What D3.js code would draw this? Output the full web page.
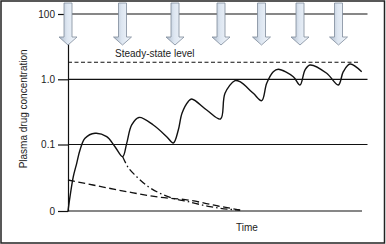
<!DOCTYPE html>
<html>
<head>
<meta charset="utf-8">
<script src="https://cdn.jsdelivr.net/npm/d3@7"></script>
<style>
  html, body { margin: 0; padding: 0; background: #fff; }
  svg { display: block; font-family: "Liberation Sans", Arial, sans-serif; }
</style>
</head>
<body>
<div id="chart"></div>
<script>
// doses (time units) and the level grid (0, 0.1, 1.0, 100 drawn evenly spaced)
const doseTimes = [0, 54.5, 107, 153, 193.5, 232, 270.5];
const levelTicks = [0, 1, 2, 3];
const levelLabels = ["0", "0.1", "1.0", "100"];
const steadyState = 2.26;

// plasma concentration after repeated doses
const concTime  = [0, 2, 5.3, 8.7, 12, 17, 27, 38.7, 47, 54.7, 58.7, 63.7, 71, 85.3, 98.7, 105.3,
                   110.3, 114, 120.3, 123.7, 138.7, 152.5, 157, 167, 172, 185.3, 193.7, 198.7, 205.3,
                   210.3, 225.3, 232, 237, 242, 258.7, 270.3, 275.3, 282, 293.7];
const concLevel = [0, 0.215, 0.516, 0.717, 0.917, 1.095, 1.172, 1.12, 0.967, 0.817, 1.018, 1.3, 1.415, 1.299, 1.12, 1.023,
                   1.222, 1.48, 1.66, 1.698, 1.529, 1.391, 1.785, 1.979, 1.963, 1.785, 1.672, 1.938, 2.116,
                   2.153, 2.04, 1.913, 2.142, 2.219, 2.092, 1.913, 2.116, 2.234, 2.116];

// single dose decay (dash-dot) and elimination line (dashed)
const decayTime  = [54.7, 58.7, 68.7, 80.3, 92, 105.3, 120.3, 142, 172];
const decayLevel = [0.817, 0.692, 0.516, 0.366, 0.266, 0.19, 0.14, 0.065, 0.012];
const elimTime  = [0, 25, 58.7, 92, 120.3, 150, 174];
const elimLevel = [0.466, 0.391, 0.291, 0.206, 0.165, 0.075, 0.01];

const W = 386, H = 244;
const svg = d3.select("#chart").append("svg")
    .attr("width", W)
    .attr("height", H);

const defs = svg.append("defs");
const grad = defs.append("linearGradient").attr("id", "arrowFill")
    .attr("x1", "0%").attr("x2", "100%").attr("y1", "0%").attr("y2", "0%");
grad.append("stop").attr("offset", "0%").attr("stop-color", "#aebbcb");
grad.append("stop").attr("offset", "45%").attr("stop-color", "#dde6f1");
grad.append("stop").attr("offset", "100%").attr("stop-color", "#f2f6fb");

svg.append("rect")
    .attr("x", 1).attr("y", 1)
    .attr("width", 383.5).attr("height", 242)
    .attr("fill", "#fff")
    .attr("stroke", "#222")
    .attr("stroke-width", 1.5);

const x = d3.scaleLinear().domain([0, 294]).range([68, 362]);
const y = d3.scaleLinear().domain(levelTicks).range([211, 144.5, 79.3, 14]);
const gridEnd = 367.5;

// horizontal grid lines
svg.append("g")
    .selectAll("line")
    .data(levelTicks)
    .join("line")
    .attr("x1", x(0))
    .attr("x2", d => d === 0 ? x.range()[1] : gridEnd)
    .attr("y1", d => y(d))
    .attr("y2", d => y(d))
    .attr("stroke", "#111")
    .attr("stroke-width", 1.2);

// y axis
const yAxis = svg.append("g")
    .attr("transform", `translate(${x(0)},0)`)
    .call(d3.axisLeft(y)
        .tickValues(levelTicks)
        .tickFormat((d, i) => levelLabels[i])
        .tickSizeInner(10)
        .tickSizeOuter(0)
        .tickPadding(3));
yAxis.select(".domain").attr("stroke", "#111").attr("stroke-width", 1.2);
yAxis.selectAll(".tick line").attr("stroke", "#111").attr("stroke-width", 1.2);
yAxis.selectAll(".tick text")
    .attr("fill", "#222")
    .style("font-size", "10px")
    .style("font-family", "'Liberation Sans', Arial, sans-serif");

svg.append("text")
    .attr("transform", `translate(27,${(y(0.6) + y(2.5)) / 2}) rotate(-90)`)
    .attr("text-anchor", "middle")
    .attr("fill", "#222")
    .style("font-size", "10px")
    .text("Plasma drug concentration");

svg.append("text")
    .attr("x", x(179))
    .attr("y", 231)
    .attr("text-anchor", "middle")
    .attr("fill", "#222")
    .style("font-size", "10px")
    .text("Time");

// steady-state level
svg.append("line")
    .attr("x1", x(0)).attr("x2", x(290.5))
    .attr("y1", y(steadyState)).attr("y2", y(steadyState))
    .attr("stroke", "#111")
    .attr("stroke-width", 1.1)
    .attr("stroke-dasharray", "4,2.5");

svg.append("text")
    .attr("x", x(47))
    .attr("y", y(steadyState) - 5.5)
    .attr("fill", "#222")
    .style("font-size", "10px")
    .text("Steady-state level");

const line = d3.line()
    .x(d => x(d[0]))
    .y(d => y(d[1]))
    .curve(d3.curveMonotoneX);

const smooth = d3.line()
    .x(d => x(d[0]))
    .y(d => y(d[1]))
    .curve(d3.curveCatmullRom.alpha(0.5));

svg.append("path")
    .datum(elimTime.map((t, i) => [t, elimLevel[i]]))
    .attr("d", line)
    .attr("fill", "none")
    .attr("stroke", "#111")
    .attr("stroke-width", 1.3)
    .attr("stroke-dasharray", "7,3.5");

svg.append("path")
    .datum(decayTime.map((t, i) => [t, decayLevel[i]]))
    .attr("d", line)
    .attr("fill", "none")
    .attr("stroke", "#111")
    .attr("stroke-width", 1.3)
    .attr("stroke-dasharray", "7,3,1.5,3");

svg.append("path")
    .datum(concTime.map((t, i) => [t, concLevel[i]]))
    .attr("d", smooth)
    .attr("fill", "none")
    .attr("stroke", "#111")
    .attr("stroke-width", 1.4);

// dose arrows
svg.append("g")
    .selectAll("path")
    .data(doseTimes)
    .join("path")
    .attr("transform", d => `translate(${x(d)},0)`)
    .attr("d", "M-4,3 L4,3 L4,37 L9,37 L0,45 L-9,37 L-4,37 Z")
    .attr("fill", "url(#arrowFill)")
    .attr("stroke", "#7d8a9b")
    .attr("stroke-width", 0.8)
    .attr("stroke-linejoin", "miter");
</script>
</body>
</html>
